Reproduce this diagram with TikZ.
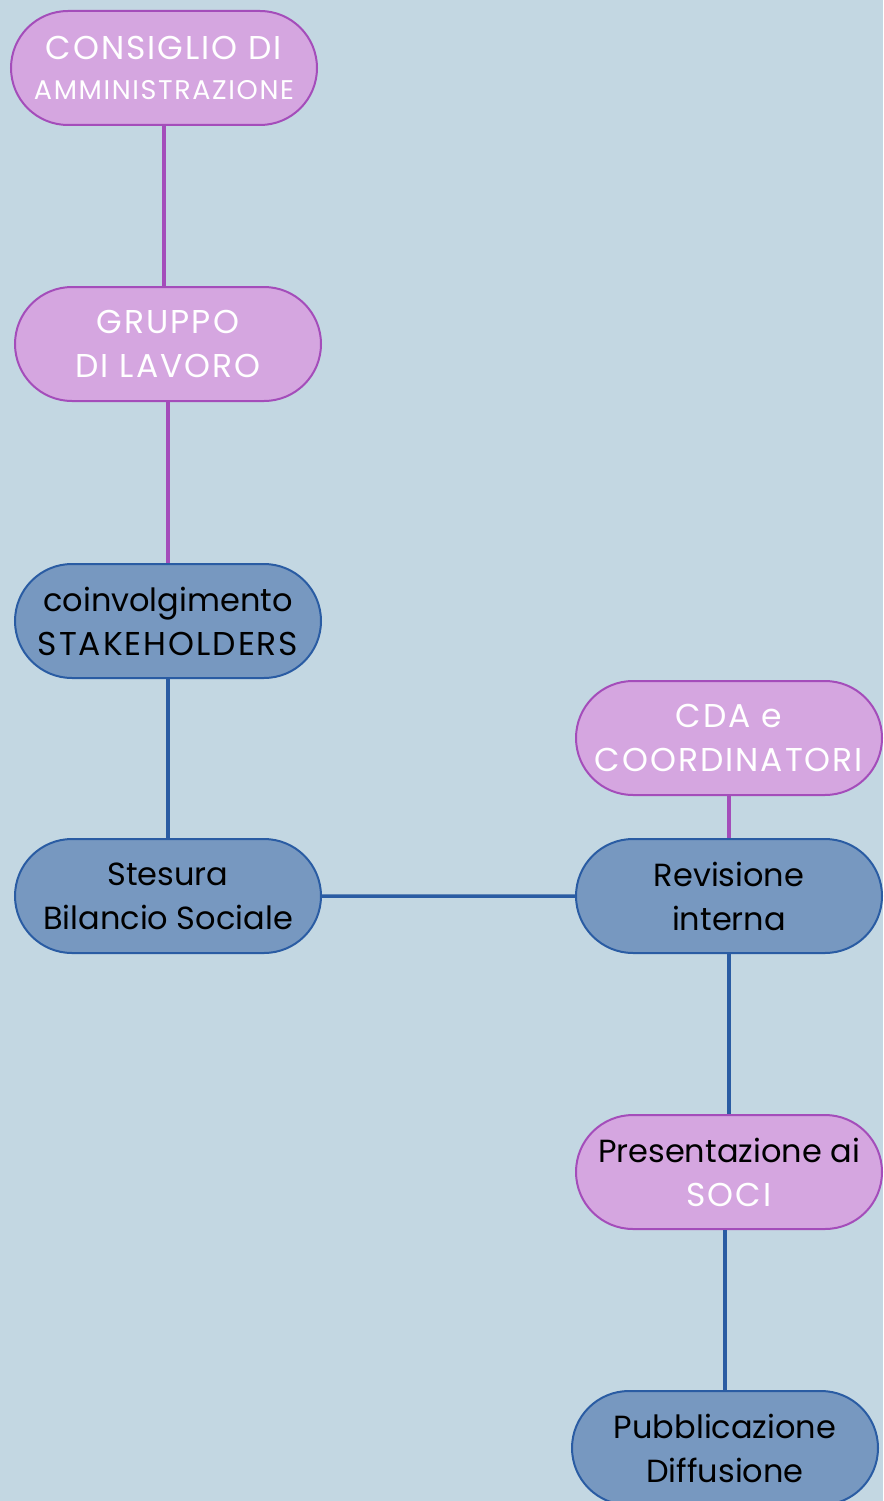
\documentclass[tikz,border=0pt]{standalone}
\usepackage{fontspec}
\setmainfont{Poppins}
\usepackage{xcolor}
\usepackage{tikz}
\usetikzlibrary{shapes.misc,positioning}
\definecolor{bgblue}{HTML}{C3D7E2}
\definecolor{pinkfill}{HTML}{D5A6E0}
\definecolor{pinkdraw}{HTML}{A44DBA}
\definecolor{bluefill}{HTML}{7798C0}
\definecolor{bluedraw}{HTML}{2A5CA3}
\newcommand{\capsline}[2][33]{{\fontsize{#1}{44}\selectfont\addfontfeature{LetterSpace=6}#2}}
\tikzset{
  pill/.style={rounded rectangle, minimum width=306pt, minimum height=114pt,
    line width=2pt, align=center, inner sep=0pt,
    font=\fontsize{32}{44}\selectfont},
  pinkpill/.style={pill, fill=pinkfill, draw=pinkdraw, text=white},
  bluepill/.style={pill, fill=bluefill, draw=bluedraw, text=black},
  pinklink/.style={draw=pinkdraw, line width=3.5pt},
  bluelink/.style={draw=bluedraw, line width=3.5pt}
}

\begin{document}
\begin{tikzpicture}[x=1pt, y=-1pt]
    % Background
    \fill[bgblue] (0,0) rectangle (883,1501);
    \useasboundingbox (0,0) rectangle (883,1501);

    % Left column
    \node[pinkpill] (consiglio) at (164,68) {\capsline{CONSIGLIO DI}\\[-4pt]\capsline[27]{AMMINISTRAZIONE}};
    \node[pinkpill] (gruppo) at (168,344) {\capsline{GRUPPO}\\\capsline{DI LAVORO}};
    \node[bluepill] (stakeholders) at (168,621) {coinvolgimento\\\capsline{STAKEHOLDERS}};
    \node[bluepill] (stesura) at (168,896) {Stesura\\Bilancio Sociale};

    % Right column
    \node[pinkpill] (coordinatori) at (729,738) {\capsline{CDA e}\\\capsline{COORDINATORI}};
    \node[bluepill] (revisione) at (729,896) {Revisione\\interna};
    \node[pinkpill, text=black] (soci) at (729,1172) {Presentazione ai\\\textcolor{white}{\capsline{SOCI}}};
    \node[bluepill] (pubblicazione) at (725,1448) {Pubblicazione\\Diffusione};

    % Links
    \draw[pinklink] (consiglio.south) -- (consiglio.south |- gruppo.north);
    \draw[pinklink] (gruppo.south) -- (gruppo.south |- stakeholders.north);
    \draw[bluelink] (stakeholders.south) -- (stakeholders.south |- stesura.north);
    \draw[bluelink] (stesura) -- (revisione);
    \draw[pinklink] (coordinatori) -- (revisione);
    \draw[bluelink] (revisione.south) -- (revisione.south |- soci.north);
    \draw[bluelink] (pubblicazione.north) -- (pubblicazione.north |- soci.south);
\end{tikzpicture}
\end{document}
